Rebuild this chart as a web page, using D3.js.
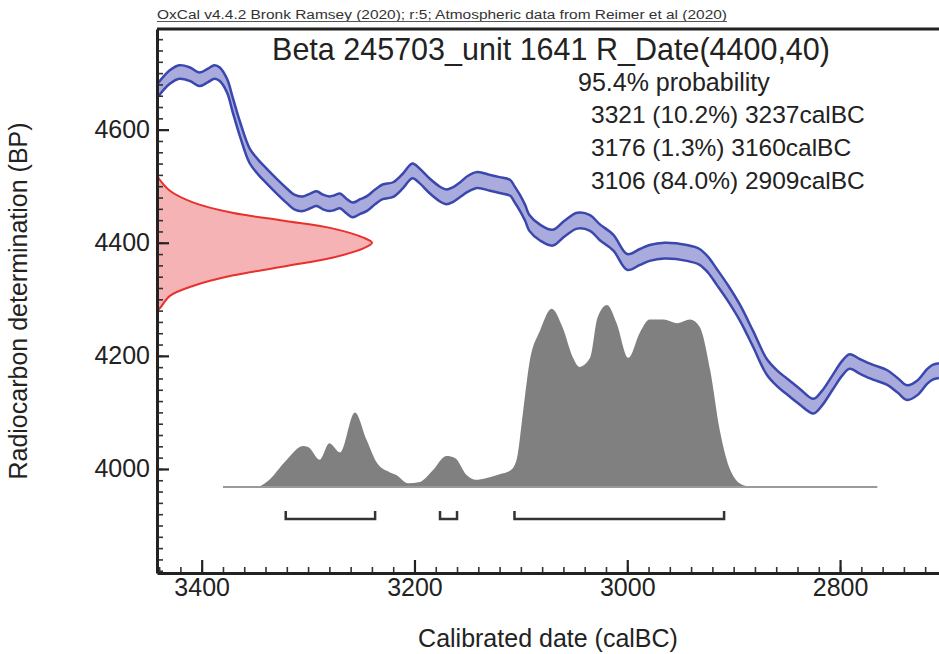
<!DOCTYPE html>
<html>
<head>
<meta charset="utf-8">
<script src="https://cdn.jsdelivr.net/npm/d3@7"></script>
<style>
  body { margin: 0; background: #fff; }
  svg { display: block; font-family: "Liberation Sans", Arial, sans-serif; }
</style>
</head>
<body>
<main></main>
<script>
// Calibration curve (IntCal20): calBC year, BP mean, BP sigma
const calYears = [3442, 3430, 3421, 3411, 3402, 3394, 3388, 3383, 3376, 3371, 3364, 3355, 3347, 3339,
  3329, 3320, 3313, 3305, 3298, 3292, 3286, 3280, 3275, 3270, 3264, 3258, 3251, 3245, 3237, 3230,
  3220, 3211, 3202, 3195, 3186, 3176, 3170, 3164, 3157, 3150, 3141, 3129, 3120, 3110, 3106, 3101,
  3096, 3092, 3082, 3070, 3059, 3047, 3035, 3026, 3013, 3000, 2988, 2979, 2965, 2944, 2932, 2924,
  2916, 2905, 2894, 2882, 2869, 2859, 2850, 2838, 2825, 2817, 2807, 2798, 2791, 2781, 2769, 2756,
  2746, 2737, 2727, 2718, 2713, 2707];
const calBP = [4668, 4693, 4702, 4698, 4689, 4696, 4702, 4698, 4677, 4645, 4601, 4554, 4534, 4518,
  4499, 4483, 4472, 4469, 4474, 4478, 4472, 4469, 4471, 4474, 4465, 4458, 4464, 4469, 4481, 4490,
  4494, 4509, 4527, 4518, 4501, 4486, 4481, 4485, 4494, 4504, 4511, 4506, 4502, 4497, 4486, 4471,
  4453, 4435, 4418, 4409, 4425, 4439, 4435, 4419, 4400, 4366, 4375, 4382, 4386, 4382, 4375, 4361,
  4340, 4310, 4276, 4231, 4181, 4160, 4146, 4128, 4111, 4125, 4153, 4178, 4190, 4181, 4171, 4162,
  4148, 4135, 4144, 4164, 4171, 4174];
const calSigma = [12, 12, 12, 12, 12, 12, 12, 12, 12, 13, 13, 13, 13, 13,
  13, 13, 13, 13, 13, 13, 13, 13, 13, 13, 13, 13, 13, 13, 13, 13,
  13, 13, 13, 13, 13, 13, 13, 13, 13, 14, 14, 14, 14, 14, 14, 14,
  14, 14, 14, 14, 14, 14, 14, 14, 14, 14, 14, 14, 14, 14, 14, 14,
  14, 14, 14, 14, 14, 14, 14, 14, 13, 13, 13, 13, 13, 13, 13, 13,
  13, 13, 13, 13, 13, 13];

// Radiocarbon measurement R_Date(4400,40): BP and relative probability
const likeBP = [4518, 4492, 4471, 4453, 4439, 4425, 4409, 4400, 4390, 4374, 4358, 4342, 4324, 4306, 4285, 4280];
const likeProb = [0, 0.06, 0.17, 0.35, 0.59, 0.82, 0.96, 1.0, 0.96, 0.82, 0.59, 0.35, 0.17, 0.06, 0.015, 0];

// Calibrated distribution: calBC year and relative probability
const postYears = [3380, 3348, 3339, 3320, 3305, 3300, 3289, 3280, 3270, 3256, 3245, 3235, 3223, 3217,
  3206, 3195, 3183, 3170, 3162, 3151, 3143, 3132, 3120, 3110, 3104, 3098, 3092, 3082, 3071, 3061,
  3051, 3045, 3035, 3028, 3019, 3010, 2999, 2988, 2979, 2966, 2953, 2941, 2932, 2922, 2913, 2903,
  2891, 2880, 2765];
const postProb = [0, 0, 0.027, 0.15, 0.225, 0.22, 0.15, 0.24, 0.19, 0.41, 0.26, 0.13, 0.08, 0.066,
  0.02, 0.027, 0.09, 0.17, 0.16, 0.066, 0.04, 0.05, 0.07, 0.09, 0.15, 0.41, 0.68, 0.86, 0.98, 0.88,
  0.71, 0.66, 0.71, 0.93, 1.0, 0.90, 0.71, 0.85, 0.92, 0.92, 0.90, 0.92, 0.88, 0.64, 0.31, 0.09,
  0.01, 0, 0];

// 95.4% ranges
const rangeFrom = [3321, 3176, 3106];
const rangeTo = [3237, 3160, 2909];
const rangePct = ["10.2%", "1.3%", "84.0%"];

const xMajor = [3400, 3200, 3000, 2800];
const yMajor = [4000, 4200, 4400, 4600];

const headerText = "OxCal v4.4.2 Bronk Ramsey (2020); r:5; Atmospheric data from Reimer et al (2020)";
const titleText = "Beta 245703_unit 1641 R_Date(4400,40)";
const xTitle = "Calibrated date (calBC)";
const yTitle = "Radiocarbon determination (BP)";

draw(document.querySelector("main"));

function draw(el) {
  const W = 939, H = 654;
  const plot = { left: 157, right: 939, top: 29, bottom: 573 };
  const textColor = "#222";

  const svg = d3.select(el).append("svg")
    .attr("width", W)
    .attr("height", H);

  // scales
  const x = d3.scaleLinear().domain([3442, 2707]).range([plot.left, plot.right]);
  const y = d3.scaleLinear().domain([3816, 4778]).range([plot.bottom, plot.top]);
  const pHeight = d3.scaleLinear().domain([0, 1]).range([487, 305]);
  const pWidth = d3.scaleLinear().domain([0, 1]).range([plot.left, 372]);

  svg.append("clipPath").attr("id", "clip")
    .append("rect")
    .attr("x", plot.left).attr("y", plot.top)
    .attr("width", plot.right - plot.left).attr("height", plot.bottom - plot.top);

  const g = svg.append("g").attr("clip-path", "url(#clip)");

  // calibrated distribution (grey)
  const post = postYears.map((d, i) => ({ yr: d, p: postProb[i] }));
  g.append("path")
    .datum(post)
    .attr("fill", "#808080")
    .attr("d", d3.area()
      .x(d => x(d.yr))
      .y0(pHeight(0))
      .y1(d => pHeight(d.p))
      .curve(d3.curveMonotoneX));
  g.append("line")
    .attr("x1", x(postYears[0])).attr("x2", x(postYears[postYears.length - 1]))
    .attr("y1", pHeight(0)).attr("y2", pHeight(0))
    .attr("stroke", "#9a9a9a").attr("stroke-width", 2);

  // calibration curve band
  const cal = calYears.map((d, i) => ({ yr: d, bp: calBP[i], s: calSigma[i] }));
  g.append("path")
    .datum(cal)
    .attr("fill", "#a9abdc")
    .attr("d", d3.area()
      .x(d => x(d.yr))
      .y0(d => y(d.bp - d.s))
      .y1(d => y(d.bp + d.s))
      .curve(d3.curveCatmullRom));
  [1, -1].forEach(k => {
    g.append("path")
      .datum(cal)
      .attr("fill", "none")
      .attr("stroke", "#3a47ad")
      .attr("stroke-width", 2.5)
      .attr("d", d3.line()
        .x(d => x(d.yr))
        .y(d => y(d.bp + k * d.s))
        .curve(d3.curveCatmullRom));
  });

  // radiocarbon measurement (red)
  const like = likeBP.map((d, i) => ({ bp: d, p: likeProb[i] }));
  g.append("path")
    .datum(like)
    .attr("fill", "#f5b3b6")
    .attr("stroke", "#e8302c")
    .attr("stroke-width", 2)
    .attr("d", d3.area()
      .y(d => y(d.bp))
      .x0(pWidth(0))
      .x1(d => pWidth(d.p))
      .curve(d3.curveCatmullRom));

  // range brackets
  const by = 519;
  rangeFrom.forEach((f, i) => {
    g.append("path")
      .attr("fill", "none")
      .attr("stroke", "#333")
      .attr("stroke-width", 2.5)
      .attr("d", `M${x(f)},${by - 8}V${by}H${x(rangeTo[i])}V${by - 8}`);
  });

  // Build X axis
  const xMinor = d3.range(3440, 2700, -20);
  svg.append("g")
    .attr("transform", `translate(0,${plot.bottom})`)
    .call(d3.axisBottom(x).tickValues(xMinor).tickSize(-6).tickFormat(""))
    .call(a => a.select(".domain").remove())
    .call(a => a.selectAll("line").attr("stroke", "#333").attr("stroke-width", 1.6));
  svg.append("g")
    .attr("transform", `translate(0,${plot.bottom})`)
    .call(d3.axisBottom(x).tickValues(xMajor).tickSizeInner(-13).tickSizeOuter(0).tickPadding(5).tickFormat(d3.format("d")))
    .call(a => a.select(".domain").attr("stroke", "#222").attr("stroke-width", 3))
    .call(a => a.selectAll("line").attr("stroke", "#222").attr("stroke-width", 2.2));

  // Build Y axis
  const yMinor = d3.range(3820, 4780, 20);
  svg.append("g")
    .attr("transform", `translate(${plot.left},0)`)
    .call(d3.axisLeft(y).tickValues(yMinor).tickSize(-6).tickFormat(""))
    .call(a => a.select(".domain").remove())
    .call(a => a.selectAll("line").attr("stroke", "#333").attr("stroke-width", 1.6));
  svg.append("g")
    .attr("transform", `translate(${plot.left},0)`)
    .call(d3.axisLeft(y).tickValues(yMajor).tickSizeInner(-12).tickSizeOuter(0).tickPadding(7).tickFormat(d3.format("d")))
    .call(a => a.select(".domain").attr("stroke", "#222").attr("stroke-width", 3))
    .call(a => a.selectAll("line").attr("stroke", "#222").attr("stroke-width", 2.2));

  svg.selectAll(".tick text")
    .attr("font-family", "'Liberation Sans', Arial, sans-serif")
    .attr("font-size", 25)
    .attr("fill", textColor);

  // top frame line
  svg.append("line")
    .attr("x1", plot.left).attr("x2", plot.right)
    .attr("y1", plot.top).attr("y2", plot.top)
    .attr("stroke", "#222").attr("stroke-width", 3);

  // header
  svg.append("text")
    .attr("x", plot.left).attr("y", 19)
    .attr("font-size", 12)
    .attr("textLength", 570)
    .attr("lengthAdjust", "spacingAndGlyphs")
    .attr("fill", "#333")
    .text(headerText);
  svg.append("line")
    .attr("x1", plot.left).attr("x2", plot.left + 570)
    .attr("y1", 21.5).attr("y2", 21.5)
    .attr("stroke", "#555").attr("stroke-width", 1);

  // title and ranges
  svg.append("text")
    .attr("x", 551).attr("y", 60)
    .attr("text-anchor", "middle")
    .attr("font-size", 30.5)
    .attr("fill", textColor)
    .text(titleText);
  svg.append("text")
    .attr("x", 578).attr("y", 91)
    .attr("font-size", 25)
    .attr("fill", textColor)
    .text("95.4% probability");
  rangeFrom.forEach((f, i) => {
    svg.append("text")
      .attr("x", 591).attr("y", 123 + i * 33)
      .attr("font-size", 24.5)
      .attr("fill", textColor)
      .text(`${f} (${rangePct[i]}) ${rangeTo[i]}calBC`);
  });

  // axis titles
  svg.append("text")
    .attr("x", (plot.left + plot.right) / 2).attr("y", 647)
    .attr("text-anchor", "middle")
    .attr("font-size", 25)
    .attr("fill", textColor)
    .text(xTitle);
  svg.append("text")
    .attr("transform", `translate(27,${(plot.top + plot.bottom) / 2}) rotate(-90)`)
    .attr("text-anchor", "middle")
    .attr("font-size", 25)
    .attr("fill", textColor)
    .text(yTitle);
}
</script>
</body>
</html>
